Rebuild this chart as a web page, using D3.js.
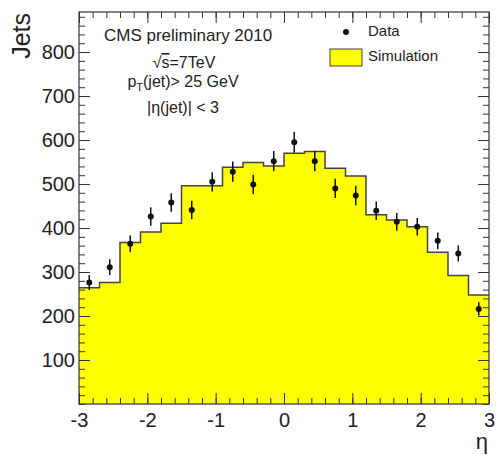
<!DOCTYPE html>
<html>
<head>
<meta charset="utf-8">
<script src="https://cdn.jsdelivr.net/npm/d3@7"></script>
<style>
  body { margin: 0; background: #fff; }
  text { font-family: "Liberation Sans", Arial, Helvetica, sans-serif; fill: #222; }
</style>
</head>
<body>
<script>
// bin edges in eta
const binEdges = [-3, -2.7, -2.4, -2.1, -1.8, -1.5, -1.2, -0.9, -0.6, -0.3, 0,
                  0.3, 0.6, 0.9, 1.2, 1.5, 1.8, 2.1, 2.4, 2.7, 3];
// simulation histogram
const simValues = [264, 276, 367, 391, 411, 496, 496, 538, 549, 541,
                   570, 574, 536, 518, 430, 418, 403, 345, 292, 248];
// data points and errors
const dataValues = [276, 311, 364, 426, 458, 441, 505, 528, 499, 552,
                    595, 552, 490, 474, 439, 414, 403, 371, 342, 216];
const dataErrors = [17, 18, 19, 21, 21, 21, 22, 23, 22, 23,
                    24, 23, 22, 22, 21, 20, 20, 19, 18, 15];
const xTickValues = [-3, -2, -1, 0, 1, 2, 3];
const yTickValues = [100, 200, 300, 400, 500, 600, 700, 800];

const width = 496, height = 455;
const plotLeft = 79, plotRight = 489, plotTop = 12, plotBottom = 404;

let svg = d3.select("body").append("svg")
    .attr("width", width)
    .attr("height", height)

let x = d3.scaleLinear().domain([-3, 3]).range([plotLeft, plotRight]);
let y = d3.scaleLinear().domain([0, 891]).range([plotBottom, plotTop]);

// step points for the histogram
let steps = [];
simValues.forEach((v, i) => {
    steps.push([binEdges[i], v]);
    steps.push([binEdges[i + 1], v]);
});

svg.append("path")
    .datum(steps)
    .attr("fill", "#ffff00")
    .attr("d", d3.area().x(d => x(d[0])).y0(y(0)).y1(d => y(d[1])));

svg.append("path")
    .datum(steps)
    .attr("fill", "none")
    .attr("stroke", "#444")
    .attr("stroke-width", 1.5)
    .attr("d", d3.line().x(d => x(d[0])).y(d => y(d[1])));

// data with error bars
let points = dataValues.map((v, i) => ({
    x: (binEdges[i] + binEdges[i + 1]) / 2, v: v, e: dataErrors[i]
}));

svg.selectAll("line.err").data(points).enter()
    .append("line")
    .attr("class", "err")
    .attr("x1", d => x(d.x)).attr("x2", d => x(d.x))
    .attr("y1", d => y(d.v - d.e)).attr("y2", d => y(d.v + d.e))
    .attr("stroke", "#111")
    .attr("stroke-width", 1.5);

svg.selectAll("circle.pt").data(points).enter()
    .append("circle")
    .attr("class", "pt")
    .attr("cx", d => x(d.x))
    .attr("cy", d => y(d.v))
    .attr("r", 3)
    .attr("fill", "#111");

// axes, ticks pointing inward
let xMinor = d3.range(-3, 3.001, 0.2);
let yMinor = d3.range(0, 891, 20);

function styleAxis(g) {
    g.select(".domain").remove();
    g.selectAll("line").attr("stroke", "#333");
    g.selectAll("text")
        .style("font-size", "20px")
        .attr("fill", "#222");
}

svg.append("g").attr("transform", `translate(0,${plotBottom})`)
    .call(d3.axisBottom(x).tickValues(xMinor).tickSize(-6).tickFormat(""))
    .call(styleAxis);
svg.append("g").attr("transform", `translate(0,${plotBottom})`)
    .call(d3.axisBottom(x).tickValues(xTickValues).tickSize(-11).tickPadding(9).tickFormat(d => String(d)))
    .call(styleAxis);
svg.append("g").attr("transform", `translate(0,${plotTop})`)
    .call(d3.axisTop(x).tickValues(xMinor).tickSize(-6).tickFormat(""))
    .call(styleAxis);
svg.append("g").attr("transform", `translate(0,${plotTop})`)
    .call(d3.axisTop(x).tickValues(xTickValues).tickSize(-11).tickFormat(""))
    .call(styleAxis);

svg.append("g").attr("transform", `translate(${plotLeft},0)`)
    .call(d3.axisLeft(y).tickValues(yMinor).tickSize(-6).tickFormat(""))
    .call(styleAxis);
svg.append("g").attr("transform", `translate(${plotLeft},0)`)
    .call(d3.axisLeft(y).tickValues(yTickValues).tickSize(-11).tickPadding(4))
    .call(styleAxis);
svg.append("g").attr("transform", `translate(${plotRight},0)`)
    .call(d3.axisRight(y).tickValues(yMinor).tickSize(-6).tickFormat(""))
    .call(styleAxis);
svg.append("g").attr("transform", `translate(${plotRight},0)`)
    .call(d3.axisRight(y).tickValues(yTickValues).tickSize(-11).tickFormat(""))
    .call(styleAxis);

// frame
svg.append("rect")
    .attr("x", plotLeft).attr("y", plotTop)
    .attr("width", plotRight - plotLeft).attr("height", plotBottom - plotTop)
    .attr("fill", "none")
    .attr("stroke", "#333")
    .attr("stroke-width", 1.2);

// axis titles
svg.append("text")
    .attr("transform", `translate(30,13) rotate(-90)`)
    .attr("text-anchor", "end")
    .style("font-size", "25px")
    .text("Jets");

svg.append("text")
    .attr("x", 488).attr("y", 449)
    .attr("text-anchor", "end")
    .style("font-size", "22px")
    .text("η");

// annotations
svg.append("text")
    .attr("x", 104).attr("y", 41)
    .style("font-size", "17px")
    .text("CMS preliminary 2010");

let t1 = svg.append("text")
    .attr("x", 184).attr("y", 68)
    .attr("text-anchor", "middle")
    .style("font-size", "16px");
t1.append("tspan").text("√");
t1.append("tspan").style("text-decoration", "overline").text("s");
t1.append("tspan").text("=7TeV");

let t2 = svg.append("text")
    .attr("x", 183).attr("y", 87)
    .attr("text-anchor", "middle")
    .style("font-size", "16px");
t2.append("tspan").text("p");
t2.append("tspan").attr("dy", 4).style("font-size", "11px").text("T");
t2.append("tspan").attr("dy", -4).text("(jet)> 25 GeV");

svg.append("text")
    .attr("x", 183).attr("y", 113)
    .attr("text-anchor", "middle")
    .style("font-size", "16px")
    .text("|η(jet)| < 3");

// legend
svg.append("circle")
    .attr("cx", 346).attr("cy", 32).attr("r", 3)
    .attr("fill", "#111");
svg.append("text")
    .attr("x", 368).attr("y", 32)
    .attr("dominant-baseline", "middle")
    .style("font-size", "15px")
    .text("Data");
svg.append("rect")
    .attr("x", 330).attr("y", 49)
    .attr("width", 32).attr("height", 17)
    .attr("fill", "#ffff00")
    .attr("stroke", "#444")
    .attr("stroke-width", 1);
svg.append("text")
    .attr("x", 368).attr("y", 57)
    .attr("dominant-baseline", "middle")
    .style("font-size", "15px")
    .text("Simulation");
</script>
</body>
</html>
